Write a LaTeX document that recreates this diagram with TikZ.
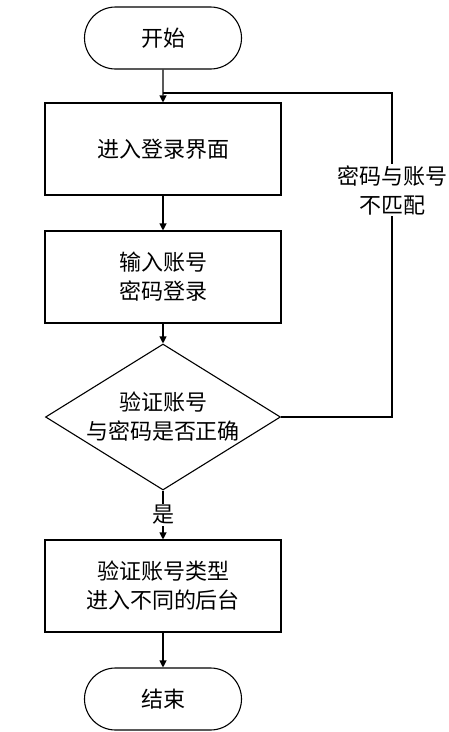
\documentclass[tikz,border=0pt]{standalone}
\usepackage{fontspec}
\newfontfamily\cjk{Noto Sans CJK SC}
\usetikzlibrary{shapes.geometric,shapes.misc,arrows.meta}
\begin{document}
\begin{tikzpicture}[x=1pt,y=-1pt,
  every node/.style={font=\cjk\fontsize{22}{29}\selectfont, align=center},
  term/.style={draw, line width=1.1pt, rounded rectangle, minimum width=157pt, minimum height=62pt, inner sep=0pt},
  procbox/.style={draw, line width=1.1pt, rectangle, minimum width=236pt, minimum height=92pt, inner sep=0pt},
  decide/.style={draw, line width=1.1pt, diamond, minimum width=235pt, minimum height=146pt, inner sep=0pt},
  conn/.style={line width=1.1pt, -{Triangle[length=7pt,width=7pt]}},
  plain/.style={line width=1.1pt}]
\useasboundingbox (0,0) rectangle (448,732);
\node[term] (start) at (163,38) {开始};
\node[procbox] (b1) at (163,149) {进入登录界面};
\node[procbox] (b2) at (163,277) {输入账号\\密码登录};
\node[decide, aspect=1.6] (d) at (163,417) {验证账号\\与密码是否正确};
\node[procbox] (b3) at (163,586) {验证账号类型\\进入不同的后台};
\node[term] (end) at (163,699) {结束};
\coordinate (j) at (163,93);
\coordinate (c1) at (392,417);
\coordinate (c2) at (392,93);
\draw[conn] (start) -- (b1);
\draw[conn] (b1) -- (b2);
\draw[conn] (b2) -- (d);
\draw[conn] (d) -- node[fill=white, inner sep=1pt] {是} (b3);
\draw[conn] (b3) -- (end);
\draw[plain] (d.east) -- (c1) -- node[fill=white, inner sep=1pt, pos=0.7] {密码与账号\\不匹配} (c2) -- (j);
\end{tikzpicture}
\end{document}
